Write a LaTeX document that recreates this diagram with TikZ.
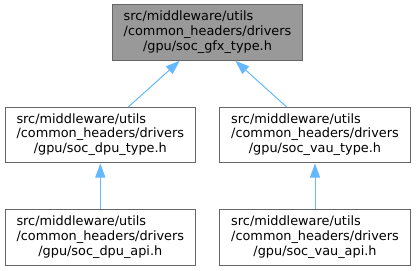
\documentclass[tikz,border=0pt]{standalone}
\usepackage{fontspec}
\setmainfont{DejaVu Sans}
\usetikzlibrary{arrows.meta,calc}
\definecolor{edgeblue}{HTML}{63B8FF}
\definecolor{boxborder}{HTML}{666666}
\definecolor{hifill}{HTML}{999999}
\newcommand{\filelabel}[1]{\begin{tabular}{@{}l@{}}src/middleware/utils\\/common\_headers/drivers\\\multicolumn{1}{@{}c@{}}{/gpu/#1}\end{tabular}}
\tikzset{
  filebox/.style={draw=boxborder, line width=1bp, fill=white, minimum width=190bp, minimum height=55bp, inner sep=0pt, font=\fontsize{12.9}{15}\selectfont},
  curbox/.style={filebox, fill=hifill},
  arr/.style={draw=edgeblue, line width=1bp, -{Triangle[length=14bp,width=10bp]}, shorten >=0.5bp}
}
\begin{document}
\begin{tikzpicture}[x=1bp,y=1bp]
\useasboundingbox (0,0) rectangle (416,271);
\node[curbox] (gfx) at (207.5,238.5) {\filelabel{soc\_gfx\_type.h}};
\node[filebox] (dpu) at (100.3,136) {\filelabel{soc\_dpu\_type.h}};
\node[filebox] (vau) at (315,136) {\filelabel{soc\_vau\_type.h}};
\node[filebox] (dpuapi) at (100.3,33.5) {\filelabel{soc\_dpu\_api.h}};
\node[filebox] (vauapi) at (315,33.5) {\filelabel{soc\_vau\_api.h}};
\draw[arr] ($(dpu.north)+(28,0)$) -- ($(gfx.south)+(-27.5,0)$);
\draw[arr] ($(vau.north)+(-28.3,0)$) -- ($(gfx.south)+(27.5,0)$);
\draw[arr] (dpuapi.north) -- (dpu.south);
\draw[arr] (vauapi.north) -- (vau.south);
\end{tikzpicture}
\end{document}
